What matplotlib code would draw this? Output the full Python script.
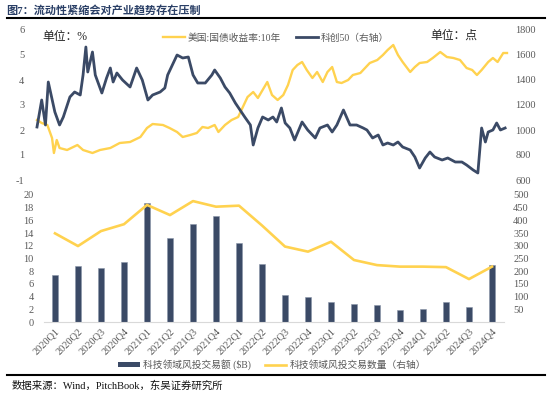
import matplotlib.pyplot as plt
from matplotlib.patches import Patch
from matplotlib.lines import Line2D

plt.rcParams["font.family"] = ["Liberation Serif", "Noto Sans CJK SC", "DejaVu Sans"]

# top chart: US 10Y yield (left, %) and STAR50 index (right, points), x in fractional years
yield_t = [2020.00, 2020.05, 2020.11, 2020.16, 2020.18, 2020.21, 2020.24, 2020.32, 2020.43, 2020.49,
           2020.59, 2020.67, 2020.78, 2020.88, 2020.99, 2021.10, 2021.17, 2021.23, 2021.34, 2021.41,
           2021.49, 2021.55, 2021.63, 2021.70, 2021.76, 2021.82, 2021.89, 2021.93, 2022.00, 2022.07,
           2022.14, 2022.19, 2022.24, 2022.30, 2022.35, 2022.40, 2022.45, 2022.50, 2022.56, 2022.62,
           2022.67, 2022.72, 2022.77, 2022.82, 2022.87, 2022.93, 2022.98, 2023.04, 2023.09, 2023.14,
           2023.19, 2023.24, 2023.31, 2023.36, 2023.44, 2023.49, 2023.54, 2023.62, 2023.68, 2023.73,
           2023.79, 2023.84, 2023.89, 2023.97, 2024.02, 2024.07, 2024.15, 2024.21, 2024.29, 2024.36,
           2024.43, 2024.50, 2024.57, 2024.63, 2024.68, 2024.73, 2024.80, 2024.85, 2024.90, 2024.96,
           2025.00]
yield_v = [2.40, 2.28, 2.20, 1.68, 1.08, 1.60, 1.28, 1.20, 1.40, 1.20,
           1.08, 1.20, 1.28, 1.48, 1.52, 1.72, 2.08, 2.24, 2.20, 2.08,
           1.92, 1.72, 1.80, 1.88, 2.12, 2.08, 2.20, 1.92, 2.20, 2.40,
           2.52, 2.92, 3.32, 3.52, 3.28, 3.60, 3.92, 3.40, 3.20, 3.40,
           3.80, 4.40, 4.60, 4.72, 4.40, 4.08, 4.32, 3.92, 4.32, 4.52,
           3.92, 3.88, 4.00, 4.20, 4.28, 4.48, 4.68, 4.80, 5.00, 5.20,
           5.40, 5.00, 4.72, 4.32, 4.52, 4.68, 4.72, 4.88, 5.12, 4.92,
           4.88, 4.80, 4.48, 4.40, 4.20, 4.40, 4.72, 4.88, 4.72, 5.08,
           5.08]

star_t = [2020.00, 2020.05, 2020.09, 2020.12, 2020.19, 2020.24, 2020.28, 2020.35, 2020.40, 2020.46,
          2020.49, 2020.52, 2020.54, 2020.59, 2020.62, 2020.69, 2020.74, 2020.78, 2020.81, 2020.85,
          2020.91, 2020.99, 2021.06, 2021.12, 2021.18, 2021.23, 2021.31, 2021.36, 2021.39, 2021.49,
          2021.55, 2021.61, 2021.66, 2021.71, 2021.79, 2021.86, 2021.89, 2021.95, 2022.00, 2022.05,
          2022.11, 2022.16, 2022.21, 2022.27, 2022.30, 2022.35, 2022.40, 2022.46, 2022.51, 2022.55,
          2022.60, 2022.64, 2022.69, 2022.74, 2022.82, 2022.88, 2022.96, 2023.01, 2023.09, 2023.14,
          2023.19, 2023.26, 2023.33, 2023.40, 2023.47, 2023.51, 2023.57, 2023.63, 2023.68, 2023.73,
          2023.79, 2023.84, 2023.89, 2023.97, 2024.02, 2024.07, 2024.13, 2024.18, 2024.23, 2024.31,
          2024.37, 2024.45, 2024.52, 2024.57, 2024.64, 2024.69, 2024.73, 2024.77, 2024.80, 2024.85,
          2024.89, 2024.93, 2024.98]
star_v = [1024, 1240, 1040, 1384, 1144, 1040, 1104, 1264, 1304, 1280,
          1440, 1664, 1464, 1624, 1440, 1296, 1416, 1496, 1384, 1456,
          1400, 1344, 1496, 1400, 1240, 1280, 1304, 1336, 1440, 1600,
          1576, 1584, 1440, 1376, 1376, 1440, 1480, 1416, 1344, 1296,
          1216, 1160, 1104, 1040, 880, 1016, 1104, 1080, 1104, 1064,
          1176, 1056, 1016, 920, 1064, 1000, 936, 1016, 1040, 984,
          1040, 1160, 1040, 1040, 1016, 1000, 936, 960, 880, 896,
          880, 904, 864, 840, 784, 696, 776, 824, 784, 760,
          776, 744, 744, 720, 680, 656, 1016, 904, 984, 1000,
          1056, 1000, 1016]

# bottom chart: quarterly tech VC deals
quarters = ["2020Q1", "2020Q2", "2020Q3", "2020Q4", "2021Q1", "2021Q2", "2021Q3", "2021Q4",
            "2022Q1", "2022Q2", "2022Q3", "2022Q4", "2023Q1", "2023Q2", "2023Q3", "2023Q4",
            "2024Q1", "2024Q2", "2024Q3", "2024Q4"]
deal_value = [7.4, 8.8, 8.45, 9.5, 18.7, 13.3, 15.5, 16.7, 12.4, 9.1,
              4.25, 4.0, 3.2, 2.9, 2.75, 1.95, 2.1, 3.1, 2.3, 9.0]
deal_count = [349, 299, 358, 385, 461, 421, 476, 454, 458, 380,
              297, 277, 316, 244, 224, 218, 218, 216, 169, 218]

NAVY = "#3b4a66"
YELLOW = "#ffd24f"
GRAY = "#595959"
W, H = 550, 397


def fx(px):
    return px / W


def fy(py):
    return 1 - py / H


def style_axis(ax):
    for s in ax.spines.values():
        s.set_visible(False)
    ax.tick_params(length=0, labelsize=7.5, labelcolor=GRAY)


fig = plt.figure(figsize=(5.5, 3.97), dpi=100)
fig.patch.set_facecolor("white")

# ---- top chart ----
ax1 = fig.add_axes([fx(30), fy(180), fx(480), 150 / H])
ax1.plot(yield_t, yield_v, color=YELLOW, lw=1.7)
ax1.set_xlim(2020 - 7 / 94, 2025 + 3 / 94)
ax1.set_ylim(0, 6)
ax1.set_yticks(range(0, 7))
ax1.set_yticklabels(["-1", "1", "2", "3", "4", "5", "6"])
ax1.set_xticks([])
style_axis(ax1)
ax1.tick_params(axis="y", pad=4)

ax2 = ax1.twinx()
ax2.plot(star_t, star_v, color=NAVY, lw=2.0)
ax2.set_ylim(600, 1800)
ax2.set_yticks(range(600, 1801, 200))
style_axis(ax2)
ax2.tick_params(axis="y", pad=4)

fig.legend(handles=[Line2D([], [], color=YELLOW, lw=1.7), Line2D([], [], color=NAVY, lw=2.0)],
           labels=["美国:国债收益率:10年", "科创50（右轴）"],
           loc="center", bbox_to_anchor=(fx(276), fy(38)), ncol=2, frameon=False,
           fontsize=7, labelcolor=GRAY, handlelength=2.2, columnspacing=1.6, handletextpad=0.3)

fig.text(fx(42), fy(37), "单位：%", fontsize=8.5, color="#222222", va="center")
fig.text(fx(430), fy(36), "单位：点", fontsize=8.5, color="#222222", va="center")

# ---- bottom chart ----
ax3 = fig.add_axes([fx(43.5), fy(322), fx(460), 127 / H])
x = range(len(quarters))
ax3.bar(x, deal_value, width=0.3, color=NAVY, edgecolor="#8a95a8", linewidth=0.4, zorder=2)
ax3.set_xlim(-0.5, len(quarters) - 0.5)
ax3.set_ylim(0, 20)
ax3.set_yticks(range(0, 21, 2))
style_axis(ax3)
ax3.spines["bottom"].set_visible(True)
ax3.spines["bottom"].set_color("#d9d9d9")
ax3.set_xticks(list(x))
ax3.set_xticklabels(quarters, rotation=45, ha="right", rotation_mode="anchor")
ax3.tick_params(axis="x", pad=3, labelsize=7.5)
ax3.tick_params(axis="y", pad=7)

ax4 = ax3.twinx()
ax4.plot(list(x), deal_count, color=YELLOW, lw=1.9, zorder=3)
ax4.set_ylim(0, 500)
ax4.set_yticks(range(50, 501, 50))
style_axis(ax4)
ax4.tick_params(axis="y", pad=7)

fig.legend(handles=[Patch(facecolor=NAVY, edgecolor="none"), Line2D([], [], color=YELLOW, lw=1.9)],
           labels=["科技领域风投交易额 ($B)", "科技领域风投交易数量（右轴）"],
           loc="center", bbox_to_anchor=(fx(272), fy(365)), ncol=2, frameon=False,
           fontsize=7, labelcolor=GRAY, handlelength=2.2, handleheight=0.5,
           columnspacing=1.5, handletextpad=0.3)

# ---- title, rules, source ----
fig.text(fx(6), fy(10), "图7：流动性紧缩会对产业趋势存在压制", fontsize=8, fontweight="bold",
         color="#2a3f66", va="center")
fig.add_artist(Line2D([fx(7), fx(545)], [fy(18), fy(18)], color="black", lw=1.5))
fig.add_artist(Line2D([fx(7), fx(545)], [fy(375), fy(375)], color="black", lw=1.5))
fig.text(fx(12), fy(386), "数据来源：Wind，PitchBook，东吴证券研究所", fontsize=7.5,
         color="#111111", va="center")

fig.savefig("out.png", dpi=100)
